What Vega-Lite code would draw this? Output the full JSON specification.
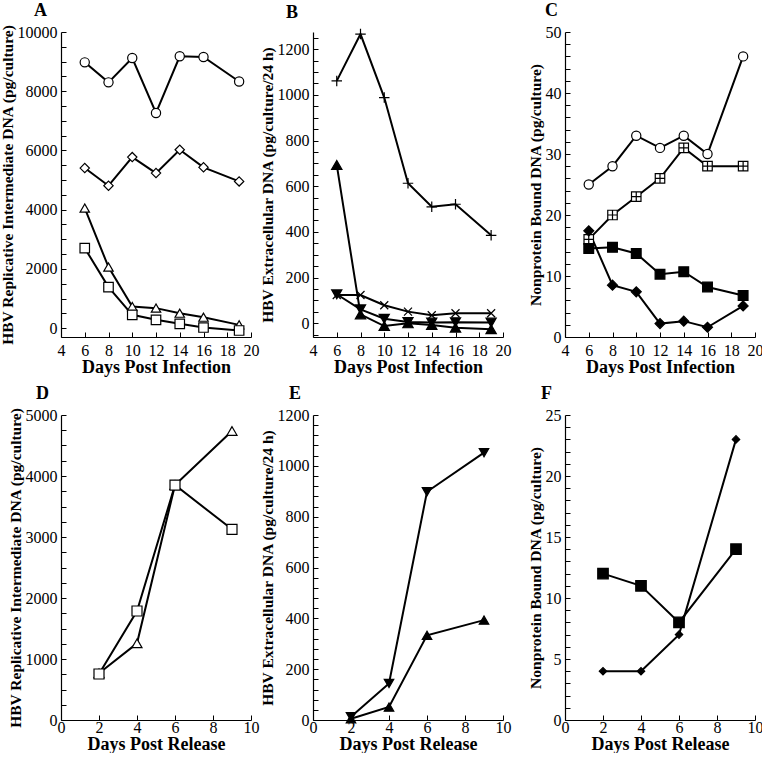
{
  "$schema": "https://vega.github.io/schema/vega-lite/v6.json",
  "background": "white",
  "padding": {"left": 0, "top": 2, "right": 0, "bottom": 0},
  "bounds": "flush",
  "columns": 3,
  "spacing": {"row": 78, "column": 62},
  "resolve": {"scale": {"shape": "independent", "fill": "independent", "size": "independent", "strokeWidth": "independent"}},
  "config": {
    "font": "Liberation Serif",
    "view": {"stroke": null},
    "axis": {
      "labelFont": "Liberation Serif", "labelFontSize": 16, "labelColor": "black",
      "titleFont": "Liberation Serif", "titleFontSize": 15.5, "titleFontWeight": "bold", "titleColor": "black",
      "domainColor": "black", "tickColor": "black", "grid": false, "domainWidth": 1.2, "tickWidth": 1,
      "labelOverlap": false, "labelFlush": false, "tickSize": -5, "format": "d"
    },
    "axisX": {"labelPadding": 10, "titlePadding": 0, "titleFontSize": 18},
    "axisY": {"labelPadding": 9, "titlePadding": 2},
    "title": {"font": "Liberation Serif", "fontSize": 18, "fontWeight": "bold", "anchor": "start", "color": "black", "frame": "group"}
  },
  "concat": [
    {
      "width": 190, "height": 305,
      "title": {"text": "A", "dx": -27, "offset": 4},
      "data": {"values": [
        {"x": 6, "y": 8975, "s": "circle"}, {"x": 8, "y": 8300, "s": "circle"}, {"x": 10, "y": 9120, "s": "circle"}, {"x": 12, "y": 7265, "s": "circle"}, {"x": 14, "y": 9180, "s": "circle"}, {"x": 16, "y": 9155, "s": "circle"}, {"x": 19, "y": 8330, "s": "circle"},
        {"x": 6, "y": 5405, "s": "diamond"}, {"x": 8, "y": 4810, "s": "diamond"}, {"x": 10, "y": 5775, "s": "diamond"}, {"x": 12, "y": 5235, "s": "diamond"}, {"x": 14, "y": 6025, "s": "diamond"}, {"x": 16, "y": 5430, "s": "diamond"}, {"x": 19, "y": 4955, "s": "diamond"},
        {"x": 6, "y": 4055, "s": "triangle"}, {"x": 8, "y": 2060, "s": "triangle"}, {"x": 10, "y": 730, "s": "triangle"}, {"x": 12, "y": 675, "s": "triangle"}, {"x": 14, "y": 505, "s": "triangle"}, {"x": 16, "y": 370, "s": "triangle"}, {"x": 19, "y": 110, "s": "triangle"},
        {"x": 6, "y": 2700, "s": "square"}, {"x": 8, "y": 1385, "s": "square"}, {"x": 10, "y": 450, "s": "square"}, {"x": 12, "y": 280, "s": "square"}, {"x": 14, "y": 145, "s": "square"}, {"x": 16, "y": 20, "s": "square"}, {"x": 19, "y": -80, "s": "square"}
      ]},
      "encoding": {
        "x": {"field": "x", "type": "quantitative", "scale": {"domain": [4, 20], "nice": false, "zero": false},
              "axis": {"title": "Days Post Infection", "values": [4, 6, 8, 10, 12, 14, 16, 18, 20]}},
        "y": {"field": "y", "type": "quantitative", "scale": {"domain": [-300, 10000], "nice": false, "zero": false},
              "axis": {"title": "HBV Replicative Intermediate DNA (pg/culture)",
                       "values": [0, 500, 1000, 1500, 2000, 2500, 3000, 3500, 4000, 4500, 5000, 5500, 6000, 6500, 7000, 7500, 8000, 8500, 9000, 9500, 10000],
                       "labelExpr": "datum.value % 2000 === 0 ? datum.label : ''"}}
      },
      "layer": [
        {"mark": {"type": "line", "color": "black", "strokeWidth": 2}, "encoding": {"detail": {"field": "s"}}},
        {"mark": {"type": "point", "stroke": "black", "strokeWidth": 1.2, "opacity": 1, "fillOpacity": 1},
         "encoding": {
           "shape": {"field": "s", "type": "nominal", "legend": null, "scale": {"domain": ["circle", "diamond", "triangle", "square"], "range": ["circle", "diamond", "triangle-up", "square"]}},
           "fill": {"field": "s", "type": "nominal", "legend": null, "scale": {"domain": ["circle", "diamond", "triangle", "square"], "range": ["white", "white", "white", "white"]}},
           "size": {"field": "s", "type": "nominal", "legend": null, "scale": {"domain": ["circle", "diamond", "triangle", "square"], "range": [85, 90, 100, 100]}}
         }}
      ]
    },
    {
      "width": 190, "height": 305,
      "title": {"text": "B", "dx": -27, "offset": 4},
      "data": {"values": [
        {"x": 6, "y": 1061, "s": "plus"}, {"x": 8, "y": 1266, "s": "plus"}, {"x": 10, "y": 988, "s": "plus"}, {"x": 12, "y": 613, "s": "plus"}, {"x": 14, "y": 510, "s": "plus"}, {"x": 16, "y": 521, "s": "plus"}, {"x": 19, "y": 385, "s": "plus"},
        {"x": 6, "y": 693, "s": "up"}, {"x": 8, "y": 39, "s": "up"}, {"x": 10, "y": -12, "s": "up"}, {"x": 12, "y": 0, "s": "up"}, {"x": 14, "y": -7, "s": "up"}, {"x": 16, "y": -19, "s": "up"}, {"x": 19, "y": -26, "s": "up"},
        {"x": 6, "y": 127, "s": "down"}, {"x": 8, "y": 61, "s": "down"}, {"x": 10, "y": 20, "s": "down"}, {"x": 12, "y": 6, "s": "down"}, {"x": 14, "y": 3, "s": "down"}, {"x": 16, "y": 5, "s": "down"}, {"x": 19, "y": 3, "s": "down"},
        {"x": 6, "y": 124, "s": "cross"}, {"x": 8, "y": 124, "s": "cross"}, {"x": 10, "y": 79, "s": "cross"}, {"x": 12, "y": 51, "s": "cross"}, {"x": 14, "y": 35, "s": "cross"}, {"x": 16, "y": 44, "s": "cross"}, {"x": 19, "y": 44, "s": "cross"}
      ]},
      "encoding": {
        "x": {"field": "x", "type": "quantitative", "scale": {"domain": [4, 20], "nice": false, "zero": false},
              "axis": {"title": "Days Post Infection", "values": [4, 6, 8, 10, 12, 14, 16, 18, 20]}},
        "y": {"field": "y", "type": "quantitative", "scale": {"domain": [-60, 1275], "nice": false, "zero": false},
              "axis": {"title": "HBV Extracellular DNA (pg/culture/24 h)",
                       "values": [-50, 0, 50, 100, 150, 200, 250, 300, 350, 400, 450, 500, 550, 600, 650, 700, 750, 800, 850, 900, 950, 1000, 1050, 1100, 1150, 1200, 1250],
                       "labelExpr": "datum.value % 200 === 0 ? datum.label : ''"}}
      },
      "layer": [
        {"mark": {"type": "line", "color": "black"},
         "encoding": {"detail": {"field": "s"},
                      "strokeWidth": {"field": "s", "type": "nominal", "legend": null, "scale": {"domain": ["plus", "up", "down", "cross"], "range": [2, 2, 2, 1.3]}}}},
        {"mark": {"type": "point", "stroke": "black", "strokeWidth": 1.2, "opacity": 1, "fillOpacity": 1},
         "encoding": {
           "shape": {"field": "s", "type": "nominal", "legend": null, "scale": {"domain": ["plus", "up", "down", "cross"], "range": ["M-1,0H1M0,-1V1", "triangle-up", "triangle-down", "M-0.8,-0.8L0.8,0.8M-0.8,0.8L0.8,-0.8"]}},
           "fill": {"field": "s", "type": "nominal", "legend": null, "scale": {"domain": ["plus", "up", "down", "cross"], "range": ["white", "black", "black", "white"]}},
           "size": {"field": "s", "type": "nominal", "legend": null, "scale": {"domain": ["plus", "up", "down", "cross"], "range": [110, 100, 100, 110]}}
         }}
      ]
    },
    {
      "width": 190, "height": 305,
      "title": {"text": "C", "dx": -20, "offset": 4},
      "data": {"values": [
        {"x": 6, "y": 25, "s": "circle"}, {"x": 8, "y": 28, "s": "circle"}, {"x": 10, "y": 33, "s": "circle"}, {"x": 12, "y": 31, "s": "circle"}, {"x": 14, "y": 33, "s": "circle"}, {"x": 16, "y": 30, "s": "circle"}, {"x": 19, "y": 46, "s": "circle"},
        {"x": 6, "y": 16, "s": "grid"}, {"x": 8, "y": 20, "s": "grid"}, {"x": 10, "y": 23, "s": "grid"}, {"x": 12, "y": 26, "s": "grid"}, {"x": 14, "y": 31, "s": "grid"}, {"x": 16, "y": 28, "s": "grid"}, {"x": 19, "y": 28, "s": "grid"},
        {"x": 6, "y": 14.5, "s": "square"}, {"x": 8, "y": 14.7, "s": "square"}, {"x": 10, "y": 13.7, "s": "square"}, {"x": 12, "y": 10.3, "s": "square"}, {"x": 14, "y": 10.7, "s": "square"}, {"x": 16, "y": 8.2, "s": "square"}, {"x": 19, "y": 6.8, "s": "square"},
        {"x": 6, "y": 17.4, "s": "diamond"}, {"x": 8, "y": 8.5, "s": "diamond"}, {"x": 10, "y": 7.4, "s": "diamond"}, {"x": 12, "y": 2.2, "s": "diamond"}, {"x": 14, "y": 2.6, "s": "diamond"}, {"x": 16, "y": 1.6, "s": "diamond"}, {"x": 19, "y": 5.1, "s": "diamond"}
      ]},
      "encoding": {
        "x": {"field": "x", "type": "quantitative", "scale": {"domain": [4, 20], "nice": false, "zero": false},
              "axis": {"title": "Days Post Infection", "values": [4, 6, 8, 10, 12, 14, 16, 18, 20]}},
        "y": {"field": "y", "type": "quantitative", "scale": {"domain": [0, 50], "nice": false},
              "axis": {"title": "Nonprotein Bound DNA (pg/culture)",
                       "values": [0, 2, 4, 6, 8, 10, 12, 14, 16, 18, 20, 22, 24, 26, 28, 30, 32, 34, 36, 38, 40, 42, 44, 46, 48, 50],
                       "labelExpr": "datum.value % 10 === 0 ? datum.label : ''"}}
      },
      "layer": [
        {"mark": {"type": "line", "color": "black", "strokeWidth": 2}, "encoding": {"detail": {"field": "s"}}},
        {"mark": {"type": "point", "stroke": "black", "strokeWidth": 1.2, "opacity": 1, "fillOpacity": 1},
         "encoding": {
           "shape": {"field": "s", "type": "nominal", "legend": null, "scale": {"domain": ["circle", "grid", "square", "diamond"], "range": ["circle", "M-1,-1H1V1H-1ZM0,-1V1M-1,0H1", "square", "diamond"]}},
           "fill": {"field": "s", "type": "nominal", "legend": null, "scale": {"domain": ["circle", "grid", "square", "diamond"], "range": ["white", "white", "black", "black"]}},
           "size": {"field": "s", "type": "nominal", "legend": null, "scale": {"domain": ["circle", "grid", "square", "diamond"], "range": [85, 100, 100, 55]}}
         }}
      ]
    },
    {
      "width": 190, "height": 305,
      "title": {"text": "D", "dx": -25, "offset": 4},
      "data": {"values": [
        {"x": 2, "y": 765, "s": "triangle"}, {"x": 4, "y": 1257, "s": "triangle"}, {"x": 6, "y": 3852, "s": "triangle"}, {"x": 9, "y": 4738, "s": "triangle"},
        {"x": 2, "y": 754, "s": "square"}, {"x": 4, "y": 1787, "s": "square"}, {"x": 6, "y": 3852, "s": "square"}, {"x": 9, "y": 3126, "s": "square"}
      ]},
      "encoding": {
        "x": {"field": "x", "type": "quantitative", "scale": {"domain": [0, 10], "nice": false},
              "axis": {"title": "Days Post Release", "values": [0, 2, 4, 6, 8, 10], "labelPadding": 4, "titlePadding": 0}},
        "y": {"field": "y", "type": "quantitative", "scale": {"domain": [0, 5000], "nice": false},
              "axis": {"title": "HBV Replicative Intermediate DNA (pg/culture)",
                       "values": [0, 250, 500, 750, 1000, 1250, 1500, 1750, 2000, 2250, 2500, 2750, 3000, 3250, 3500, 3750, 4000, 4250, 4500, 4750, 5000],
                       "labelExpr": "datum.value % 1000 === 0 ? datum.label : ''"}}
      },
      "layer": [
        {"mark": {"type": "line", "color": "black", "strokeWidth": 2}, "encoding": {"detail": {"field": "s"}}},
        {"mark": {"type": "point", "stroke": "black", "strokeWidth": 1.2, "opacity": 1, "fillOpacity": 1},
         "encoding": {
           "shape": {"field": "s", "type": "nominal", "legend": null, "scale": {"domain": ["triangle", "square"], "range": ["triangle-up", "square"]}},
           "fill": {"field": "s", "type": "nominal", "legend": null, "scale": {"domain": ["triangle", "square"], "range": ["white", "white"]}},
           "size": {"field": "s", "type": "nominal", "legend": null, "scale": {"domain": ["triangle", "square"], "range": [100, 100]}}
         }}
      ]
    },
    {
      "width": 190, "height": 305,
      "title": {"text": "E", "dx": -24, "offset": 4},
      "data": {"values": [
        {"x": 2, "y": 13, "s": "down"}, {"x": 4, "y": 144, "s": "down"}, {"x": 6, "y": 898, "s": "down"}, {"x": 9, "y": 1052, "s": "down"},
        {"x": 2, "y": 5, "s": "up"}, {"x": 4, "y": 51, "s": "up"}, {"x": 6, "y": 333, "s": "up"}, {"x": 9, "y": 393, "s": "up"}
      ]},
      "encoding": {
        "x": {"field": "x", "type": "quantitative", "scale": {"domain": [0, 10], "nice": false},
              "axis": {"title": "Days Post Release", "values": [0, 2, 4, 6, 8, 10], "labelPadding": 4, "titlePadding": 0}},
        "y": {"field": "y", "type": "quantitative", "scale": {"domain": [0, 1200], "nice": false},
              "axis": {"title": "HBV Extracellular DNA (pg/culture/24 h)",
                       "values": [0, 40, 80, 120, 160, 200, 240, 280, 320, 360, 400, 440, 480, 520, 560, 600, 640, 680, 720, 760, 800, 840, 880, 920, 960, 1000, 1040, 1080, 1120, 1160, 1200],
                       "labelExpr": "datum.value % 200 === 0 ? datum.label : ''"}}
      },
      "layer": [
        {"mark": {"type": "line", "color": "black", "strokeWidth": 2}, "encoding": {"detail": {"field": "s"}}},
        {"mark": {"type": "point", "stroke": "black", "strokeWidth": 1.2, "opacity": 1, "fillOpacity": 1},
         "encoding": {
           "shape": {"field": "s", "type": "nominal", "legend": null, "scale": {"domain": ["down", "up"], "range": ["triangle-down", "triangle-up"]}},
           "fill": {"field": "s", "type": "nominal", "legend": null, "scale": {"domain": ["down", "up"], "range": ["black", "black"]}},
           "size": {"field": "s", "type": "nominal", "legend": null, "scale": {"domain": ["down", "up"], "range": [90, 90]}}
         }}
      ]
    },
    {
      "width": 190, "height": 305,
      "title": {"text": "F", "dx": -24, "offset": 4},
      "data": {"values": [
        {"x": 2, "y": 12, "s": "square"}, {"x": 4, "y": 11, "s": "square"}, {"x": 6, "y": 8, "s": "square"}, {"x": 9, "y": 14, "s": "square"},
        {"x": 2, "y": 4, "s": "diamond"}, {"x": 4, "y": 4, "s": "diamond"}, {"x": 6, "y": 7, "s": "diamond"}, {"x": 9, "y": 23, "s": "diamond"}
      ]},
      "encoding": {
        "x": {"field": "x", "type": "quantitative", "scale": {"domain": [0, 10], "nice": false},
              "axis": {"title": "Days Post Release", "values": [0, 2, 4, 6, 8, 10], "labelPadding": 4, "titlePadding": 0}},
        "y": {"field": "y", "type": "quantitative", "scale": {"domain": [0, 25], "nice": false},
              "axis": {"title": "Nonprotein  Bound  DNA (pg/culture)",
                       "values": [0, 1, 2, 3, 4, 5, 6, 7, 8, 9, 10, 11, 12, 13, 14, 15, 16, 17, 18, 19, 20, 21, 22, 23, 24, 25],
                       "labelExpr": "datum.value % 5 === 0 ? datum.label : ''"}}
      },
      "layer": [
        {"mark": {"type": "line", "color": "black", "strokeWidth": 2}, "encoding": {"detail": {"field": "s"}}},
        {"mark": {"type": "point", "stroke": "black", "strokeWidth": 1.2, "opacity": 1, "fillOpacity": 1},
         "encoding": {
           "shape": {"field": "s", "type": "nominal", "legend": null, "scale": {"domain": ["square", "diamond"], "range": ["square", "diamond"]}},
           "fill": {"field": "s", "type": "nominal", "legend": null, "scale": {"domain": ["square", "diamond"], "range": ["black", "black"]}},
           "size": {"field": "s", "type": "nominal", "legend": null, "scale": {"domain": ["square", "diamond"], "range": [110, 55]}}
         }}
      ]
    }
  ]
}
